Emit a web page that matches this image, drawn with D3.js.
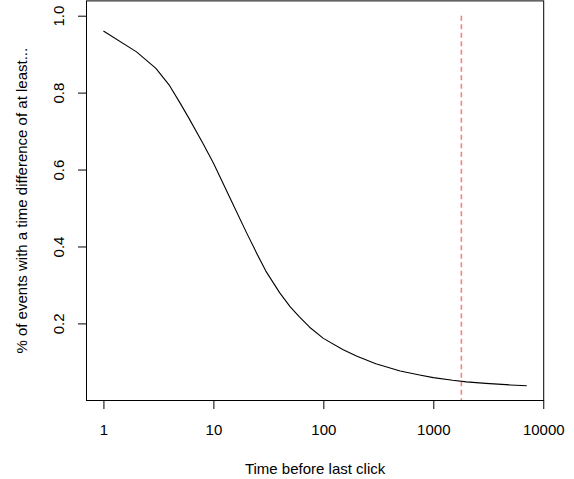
<!DOCTYPE html>
<html>
<head>
<meta charset="utf-8">
<script src="https://cdn.jsdelivr.net/npm/d3@7"></script>
<style>
  body { margin: 0; background: #fff; }
  svg { display: block; font-family: "Liberation Sans", Arial, sans-serif; }
  .tickText { font-size: 15px; fill: #000; }
  .axisTitle { font-size: 15px; fill: #000; }
</style>
</head>
<body>
<div id="chart"></div>
<script>
"use strict";

// seconds before last click (x) and share of events with at least that gap (y)
let timeValues = [1, 2, 3, 4, 5, 6, 8, 10, 15, 20, 25, 30, 40, 50, 60, 75, 100, 150, 200, 300, 500, 750, 1000, 1500, 2000, 3000, 5000, 7080];
let shareValues = [0.960, 0.906, 0.863, 0.818, 0.772, 0.733, 0.669, 0.617, 0.511, 0.436, 0.380, 0.336, 0.280, 0.243, 0.218, 0.190, 0.161, 0.132, 0.115, 0.095, 0.076, 0.066, 0.059, 0.052, 0.048, 0.044, 0.040, 0.038];

let xTicks = [1, 10, 100, 1000, 10000];
let yTicks = [0.2, 0.4, 0.6, 0.8, 1.0];
let yTickLabels = ["0.2", "0.4", "0.6", "0.8", "1.0"];

let cutoffTime = [1800];
let cutoffRange = [0, 1];
let yLimits = [0.038, 1.0];

let xTitle = "Time before last click";
let yTitle = "% of events with a time difference of at least...";

let width = 574;
let height = 479;
let margin = { top: 0.9, right: 30.3, bottom: 78.5, left: 86.5 };

let svg = d3.select("#chart").append("svg")
  .attr("width", width)
  .attr("height", height)
  .attr("viewBox", [0, 0, width, height].join(" "));

// R style 4% padding on the log scale
let logMin = Math.log10(d3.min(timeValues));
let logMax = Math.log10(d3.max(timeValues));
let xPad = (logMax - logMin) * 0.04;
let yPad = (yLimits[1] - yLimits[0]) * 0.04;

let x = d3.scaleLog()
  .domain([Math.pow(10, logMin - xPad), Math.pow(10, logMax + xPad)])
  .range([margin.left, width - margin.right]);

let y = d3.scaleLinear()
  .domain([yLimits[0] - yPad, yLimits[1] + yPad])
  .range([height - margin.bottom, margin.top]);

let plotW = width - margin.left - margin.right;
let plotH = height - margin.top - margin.bottom;

svg.append("clipPath")
  .attr("id", "plotClip")
  .append("rect")
  .attr("x", margin.left)
  .attr("y", margin.top)
  .attr("width", plotW)
  .attr("height", plotH);

// main curve
let points = timeValues.map((t, i) => [t, shareValues[i]]);

let line = d3.line()
  .x(d => x(d[0]))
  .y(d => y(d[1]));

svg.append("path")
  .datum(points)
  .attr("fill", "none")
  .attr("stroke", "#000")
  .attr("stroke-width", 1.1)
  .attr("stroke-linejoin", "round")
  .attr("d", line);

// cutoff marker
svg.append("g")
  .attr("clip-path", "url(#plotClip)")
  .selectAll("line")
  .data(cutoffTime)
  .enter().append("line")
  .attr("x1", d => x(d))
  .attr("x2", d => x(d))
  .attr("y1", y(cutoffRange[1]))
  .attr("y2", y(cutoffRange[0]))
  .attr("stroke", "rgba(255, 0, 0, 0.5)")
  .attr("stroke-width", 1.6)
  .attr("stroke-dasharray", "5,3.5");

// box
svg.append("rect")
  .attr("x", margin.left)
  .attr("y", margin.top)
  .attr("width", plotW)
  .attr("height", plotH)
  .attr("fill", "none")
  .attr("stroke", "#000")
  .attr("stroke-width", 1);

let tickLen = 8.5;
let xAxisY = height - margin.bottom;

// x axis
let xAxis = d3.axisBottom(x)
  .tickValues(xTicks)
  .tickSize(tickLen)
  .tickFormat(d3.format("d"));

let xg = svg.append("g")
  .attr("transform", `translate(0, ${xAxisY})`)
  .call(xAxis);

xg.select(".domain")
  .attr("d", `M${x(xTicks[0])},0H${x(xTicks[xTicks.length - 1])}`)
  .attr("stroke", "#000");

xg.selectAll(".tick line").attr("stroke", "#000");
xg.selectAll(".tick text")
  .attr("class", "tickText")
  .attr("y", 34.5)
  .attr("dy", null);
xg.attr("font-family", null).attr("font-size", null);

// y axis
let yAxis = d3.axisLeft(y)
  .tickValues(yTicks)
  .tickSize(tickLen)
  .tickFormat((d, i) => yTickLabels[i]);

let yg = svg.append("g")
  .attr("transform", `translate(${margin.left}, 0)`)
  .call(yAxis);

yg.select(".domain")
  .attr("d", `M0,${y(yTicks[0])}V${y(yTicks[yTicks.length - 1])}`)
  .attr("stroke", "#000");

yg.selectAll(".tick line").attr("stroke", "#000");
yg.selectAll(".tick text")
  .attr("class", "tickText")
  .attr("x", null)
  .attr("dy", null)
  .attr("transform", "translate(-22.8, 0) rotate(-90)")
  .attr("y", 0)
  .style("text-anchor", "middle");
yg.attr("font-family", null).attr("font-size", null);

// titles
svg.append("text")
  .attr("class", "axisTitle")
  .attr("x", margin.left + plotW / 2)
  .attr("y", 473.5)
  .style("text-anchor", "middle")
  .text(xTitle);

svg.append("text")
  .attr("class", "axisTitle")
  .attr("transform", `translate(27, ${margin.top + plotH / 2}) rotate(-90)`)
  .style("text-anchor", "middle")
  .text(yTitle);
</script>
</body>
</html>
